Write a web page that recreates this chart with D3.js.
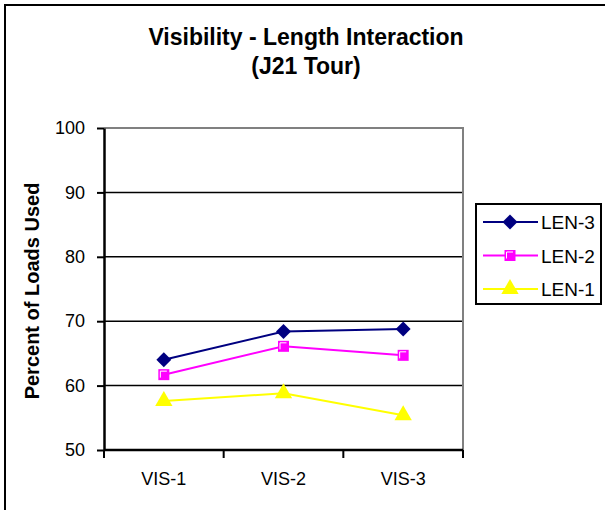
<!DOCTYPE html>
<html>
<head>
<script src="https://cdnjs.cloudflare.com/ajax/libs/d3/7.8.5/d3.min.js"></script>
<style>
  body { margin: 0; background: #fff; }
  text { font-family: "Liberation Sans", Arial, sans-serif; }
</style>
</head>
<body>
<div id="vis"></div>
<script>
  const categories = ["VIS-1", "VIS-2", "VIS-3"];
  const seriesNames = ["LEN-3", "LEN-2", "LEN-1"];
  const len3 = [64.0, 68.4, 68.8];
  const len2 = [61.7, 66.1, 64.7];
  const len1 = [57.6, 58.8, 55.4];
  const yTicks = [50, 60, 70, 80, 90, 100];

  const series = [
    {name: seriesNames[0], values: len3, color: "#000080", marker: "diamond"},
    {name: seriesNames[1], values: len2, color: "#FF00FF", marker: "square"},
    {name: seriesNames[2], values: len1, color: "#FFFF00", marker: "triangle"}
  ];

  const width = 605, height = 510;
  const svg = d3.select("#vis").append("svg")
      .attr("width", width)
      .attr("height", height);

  // outer frame (right/bottom edges fall outside the picture)
  svg.append("rect")
      .attr("x", 5).attr("y", 5)
      .attr("width", 610).attr("height", 520)
      .attr("fill", "none").attr("stroke", "black").attr("stroke-width", 2);

  const plot = {left: 104, right: 463, top: 128, bottom: 450};

  const x = d3.scaleBand().domain(categories).range([plot.left, plot.right]);
  const y = d3.scaleLinear().domain([50, 100]).range([plot.bottom, plot.top]);

  // gridlines
  svg.append("g").selectAll("line")
      .data(yTicks.filter(d => d > 50 && d < 100))
      .join("line")
      .attr("x1", plot.left).attr("x2", plot.right)
      .attr("y1", d => y(d)).attr("y2", d => y(d))
      .attr("stroke", "black").attr("stroke-width", 1.5);

  // plot area top/right border (gray)
  svg.append("path")
      .attr("d", `M${plot.left},${plot.top}H${plot.right}V${plot.bottom}`)
      .attr("fill", "none").attr("stroke", "#808080").attr("stroke-width", 2);

  // y axis
  const yAxis = svg.append("g")
      .attr("transform", `translate(${plot.left},0)`)
      .call(d3.axisLeft(y).tickValues(yTicks).tickSize(7).tickPadding(12).tickSizeOuter(0));
  yAxis.select(".domain").attr("stroke-width", 2.5);
  yAxis.selectAll(".tick line").attr("stroke-width", 2);
  yAxis.selectAll("text").attr("font-size", 18).attr("fill", "black")
      .attr("font-family", "Liberation Sans, Arial, sans-serif");

  // x axis
  const xAxis = svg.append("g")
      .attr("transform", `translate(0,${plot.bottom})`)
      .call(d3.axisBottom(x).tickSize(0).tickPadding(22));
  xAxis.select(".domain").attr("stroke-width", 2.5).attr("d", `M${plot.left},0H${plot.right}`);
  xAxis.selectAll("text").attr("font-size", 18).attr("fill", "black")
      .attr("font-family", "Liberation Sans, Arial, sans-serif");
  xAxis.selectAll(".edge")
      .data(categories.map(c => x(c)).concat([plot.right]))
      .join("line")
      .attr("x1", d => d).attr("x2", d => d)
      .attr("y1", 0).attr("y2", 8)
      .attr("stroke", "black").attr("stroke-width", 2);

  // marker drawing, Excel-ish shapes
  function drawMarker(g, s) {
    if (s.marker === "diamond") {
      g.append("path")
          .attr("d", d3.symbol().type(d3.symbolSquare).size(112))
          .attr("transform", "rotate(45)")
          .attr("fill", s.color);
    } else if (s.marker === "square") {
      g.append("path")
          .attr("d", d3.symbol().type(d3.symbolSquare).size(121))
          .attr("fill", s.color);
      g.append("path")
          .attr("d", "M-3.5,3V-3.5H3")
          .attr("fill", "none").attr("stroke", "white").attr("stroke-width", 1);
    } else {
      g.append("path")
          .attr("d", d3.symbol().type(d3.symbolTriangle).size(130))
          .attr("fill", s.color);
    }
  }

  // lines + markers
  const cx = c => x(c) + x.bandwidth() / 2;
  const line = d3.line().x((d, i) => cx(categories[i])).y(d => y(d));

  series.forEach(s => {
    svg.append("path")
        .datum(s.values)
        .attr("d", line)
        .attr("fill", "none")
        .attr("stroke", s.color)
        .attr("stroke-width", 2);
    svg.append("g").selectAll("g")
        .data(s.values)
        .join("g")
        .attr("transform", (d, i) => `translate(${cx(categories[i])},${y(d)})`)
        .each(function() { drawMarker(d3.select(this), s); });
  });

  // title
  const title = svg.append("text")
      .attr("text-anchor", "middle")
      .attr("font-weight", "bold")
      .attr("font-size", 23);
  title.append("tspan").attr("x", 306).attr("y", 45).text("Visibility - Length Interaction");
  title.append("tspan").attr("x", 306).attr("y", 74).text("(J21 Tour)");

  // y axis title
  svg.append("text")
      .attr("transform", "translate(39,291) rotate(-90)")
      .attr("text-anchor", "middle")
      .attr("font-weight", "bold")
      .attr("font-size", 20)
      .text("Percent of Loads Used");

  // legend
  const legend = svg.append("g");
  legend.append("rect")
      .attr("x", 476).attr("y", 204)
      .attr("width", 125).attr("height", 100)
      .attr("fill", "white").attr("stroke", "black").attr("stroke-width", 2);
  const ly = d3.scalePoint().domain(seriesNames).range([222, 289]);
  series.forEach(s => {
    const g = legend.append("g").attr("transform", `translate(0,${ly(s.name)})`);
    g.append("line").attr("x1", 483).attr("x2", 538)
        .attr("stroke", s.color).attr("stroke-width", 2);
    drawMarker(g.append("g").attr("transform", "translate(510,0)"), s);
    g.append("text").attr("x", 541).attr("y", 7)
        .attr("font-size", 19).text(s.name);
  });
</script>
</body>
</html>
